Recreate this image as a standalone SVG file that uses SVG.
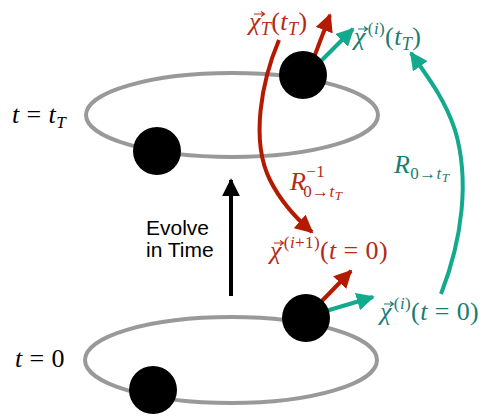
<svg xmlns="http://www.w3.org/2000/svg" width="489" height="416" viewBox="0 0 489 416">
<style>
.orbit{fill:none;stroke:#999;stroke-width:4}
.ball{fill:#000}
.m{font-family:"Liberation Serif","Times New Roman",serif;font-size:26px;letter-spacing:0.4px}
.i{font-style:italic}
.red{fill:#b42a17}
.teal{fill:#1a7d72}
.blk{fill:#000}
.sans{font-family:"Liberation Sans",Arial,sans-serif;font-size:21px;fill:#000}
.ra{fill:none;stroke:#b31a00;stroke-width:4}
.ta{fill:none;stroke:#12a98c;stroke-width:4}
.ka{fill:none;stroke:#000;stroke-width:4}
.vr{stroke:#b42a17;stroke-width:1.2;fill:none}
.vt{stroke:#1a7d72;stroke-width:1.2;fill:none}
</style>
<defs>
<marker id="hr" viewBox="0 0 10 10" refX="9" refY="5" markerWidth="4.5" markerHeight="4.5" orient="auto" markerUnits="strokeWidth"><path d="M0,0 L10,5 L0,10 z" fill="#b31a00"/></marker>
<marker id="ht" viewBox="0 0 10 10" refX="9" refY="5" markerWidth="4.5" markerHeight="4.5" orient="auto" markerUnits="strokeWidth"><path d="M0,0 L10,5 L0,10 z" fill="#12a98c"/></marker>
<marker id="hk" viewBox="0 0 10 10" refX="9" refY="5" markerWidth="4.5" markerHeight="4.5" orient="auto" markerUnits="strokeWidth"><path d="M0,0 L10,5 L0,10 z" fill="#000"/></marker>
</defs>

<g id="orbit-top">
<ellipse class="orbit" cx="232" cy="115" rx="146" ry="42"/>
<text class="m blk" x="12" y="123" font-size="24"><tspan class="i">t</tspan> = <tspan class="i">t</tspan><tspan class="i" dy="5" font-size="17">T</tspan></text>
</g>
<g id="orbit-bottom">
<ellipse class="orbit" cx="231" cy="360" rx="146" ry="43"/>
<text class="m blk" x="15" y="367" font-size="25"><tspan class="i">t</tspan> = 0</text>
</g>

<g id="connectors">
<line class="ka" x1="231" y1="296" x2="231" y2="180" marker-end="url(#hk)"/>
<path class="ra" d="M279,40 C262,80 250,140 270,180 C282,204 298,220 312,232" marker-end="url(#hr)"/>
<path class="ta" d="M441,294 C462,240 470,180 455,130 C445,100 430,80 411,53" marker-end="url(#ht)"/>
<line class="ra" x1="313" y1="60" x2="330" y2="15" marker-end="url(#hr)"/>
<line class="ta" x1="318" y1="64" x2="353" y2="29" marker-end="url(#ht)"/>
<line class="ra" x1="318" y1="305" x2="351" y2="271" marker-end="url(#hr)"/>
<line class="ta" x1="326" y1="311" x2="373" y2="297" marker-end="url(#ht)"/>
</g>

<g id="balls">
<circle id="ball-top-a" class="ball" cx="157" cy="151" r="24"/>
<circle id="ball-top-b" class="ball" cx="303" cy="75" r="24"/>
<circle id="ball-bot-a" class="ball" cx="306" cy="318" r="24"/>
<circle id="ball-bot-b" class="ball" cx="153" cy="390" r="24"/>
</g>

<g id="evolve-label">
<text class="sans" x="146" y="235">Evolve</text>
<text class="sans" x="146" y="257">in Time</text>
</g>

<g id="label-chiT">
<text class="m red" x="249" y="30"><tspan class="i">χ</tspan><tspan class="i" dy="5" font-size="18">T</tspan><tspan dy="-5">(</tspan><tspan class="i">t</tspan><tspan class="i" dy="5" font-size="18">T</tspan><tspan dy="-5">)</tspan></text>
<path class="vr" d="M254,14 H264 M261,11.5 L264.5,14 L261,16.5"/>
</g>
<g id="label-chi-i-tT">
<text class="m teal" x="354" y="45"><tspan class="i">χ</tspan><tspan dx="2" dy="-11" font-size="17">(<tspan class="i">i</tspan>)</tspan><tspan dy="11">(</tspan><tspan class="i">t</tspan><tspan class="i" dy="5" font-size="18">T</tspan><tspan dy="-5">)</tspan></text>
<path class="vt" d="M358,29 H367 M364,26.5 L367.5,29 L364,31.5"/>
</g>
<g id="label-Rinv">
<text class="m red" x="290" y="190"><tspan class="i">R</tspan><tspan dy="-13" font-size="17">−1</tspan><tspan dx="-22" dy="20" font-size="17">0→<tspan class="i">t</tspan></tspan><tspan class="i" dy="3" font-size="13">T</tspan></text>
</g>
<g id="label-R">
<text class="m teal" x="394" y="173"><tspan class="i">R</tspan><tspan dy="6" font-size="17">0→<tspan class="i">t</tspan></tspan><tspan class="i" dy="3" font-size="13">T</tspan></text>
</g>
<g id="label-chi-i1-0">
<text class="m red" x="270" y="259"><tspan class="i">χ</tspan><tspan dx="2" dy="-11" font-size="17">(<tspan class="i">i</tspan>+1)</tspan><tspan dy="11">(</tspan><tspan class="i">t</tspan> = 0)</text>
<path class="vr" d="M274,243 H283 M280,240.5 L283.5,243 L280,245.5"/>
</g>
<g id="label-chi-i-0">
<text class="m teal" x="380" y="320"><tspan class="i">χ</tspan><tspan dx="2" dy="-11" font-size="17">(<tspan class="i">i</tspan>)</tspan><tspan dy="11">(</tspan><tspan class="i">t</tspan> = 0)</text>
<path class="vt" d="M384,304 H393 M390,301.5 L393.5,304 L390,306.5"/>
</g>
</svg>
